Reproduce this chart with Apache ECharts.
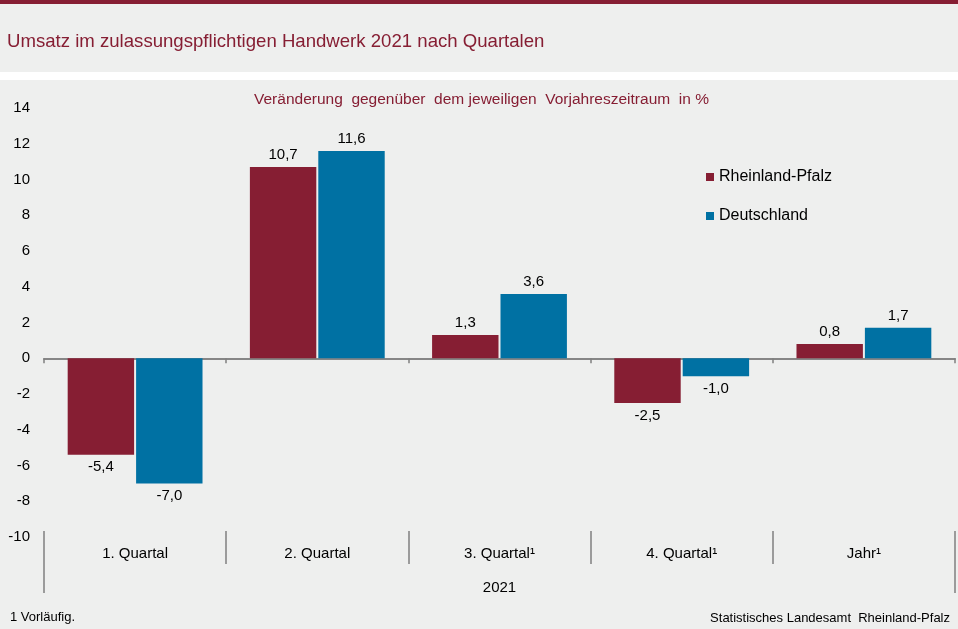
<!DOCTYPE html>
<html>
<head>
<meta charset="utf-8">
<script src="https://cdn.jsdelivr.net/npm/echarts@6/dist/echarts.min.js"></script>
<style>
  html, body { margin: 0; padding: 0; background: #eeefee; }
  #chart { width: 958px; height: 629px; }
</style>
</head>
<body>
<div id="chart"></div>
<script>
// Daten
const categories = ["1. Quartal", "2. Quartal", "3. Quartal¹", "4. Quartal¹", "Jahr¹"];
const rheinlandPfalz = [-5.4, 10.7, 1.3, -2.5, 0.8];
const deutschland = [-7.0, 11.6, 3.6, -1.0, 1.7];
const yearLabel = "2021";

const red = "#861e33";
const blue = "#0071a3";
const grey = "#808080";
const font = "Liberation Sans, Arial, sans-serif";

const fmt = v => v.toFixed(1).replace(".", ",");

// negative Werte bekommen das Label unter dem Balken
const toItems = arr => arr.map(v => ({
  value: v,
  label: { position: v < 0 ? "bottom" : "top" }
}));

const chart = echarts.init(document.getElementById("chart"));

const barLabel = {
  show: true,
  distance: 5,
  fontSize: 15,
  color: "#000",
  fontFamily: font,
  formatter: p => fmt(p.value)
};

const yBase = { type: "value", min: -10, max: 14, interval: 2 };

const option = {
  backgroundColor: "#eeefee",
  animation: false,
  textStyle: { fontFamily: font },
  graphic: [
    { type: "rect", shape: { x: 0, y: 0, width: 958, height: 4 }, style: { fill: red } },
    { type: "rect", shape: { x: 0, y: 72, width: 958, height: 8 }, style: { fill: "#ffffff" } },
    { type: "text", left: 7, top: 32,
      style: { text: "Umsatz im zulassungspflichtigen Handwerk 2021 nach Quartalen", fill: red, font: "18.6px " + font } },
    { type: "text", left: 254, top: 92,
      style: { text: "Veränderung  gegenüber  dem jeweiligen  Vorjahreszeitraum  in %", fill: red, font: "15.5px " + font } },
    { type: "text", left: 10, top: 611,
      style: { text: "1 Vorläufig.", fill: "#000", font: "13px " + font } },
    { type: "text", right: 8, top: 612,
      style: { text: "Statistisches Landesamt  Rheinland-Pfalz", fill: "#000", font: "13px " + font } }
  ],
  legend: {
    orient: "vertical",
    left: 701,
    top: 164,
    itemWidth: 8,
    itemHeight: 8,
    itemGap: 23,
    icon: "rect",
    textStyle: { fontSize: 16, color: "#000", fontFamily: font },
    data: ["Rheinland-Pfalz", "Deutschland"]
  },
  grid: { left: 44, right: 3, top: 108, bottom: 92 },
  xAxis: [
    {
      // Nulllinie mit Trennstrichen nach unten
      type: "category",
      data: categories,
      axisLine: { onZero: true, onZeroAxisIndex: 0, lineStyle: { color: grey, width: 1.5 } },
      axisTick: { show: true, length: 5, lineStyle: { color: grey, width: 1.5 } },
      axisLabel: { show: false }
    },
    {
      // Beschriftung unten
      type: "category",
      data: categories,
      position: "bottom",
      offset: -6,
      axisLine: { show: false, onZero: false },
      axisTick: { show: true, length: 33, lineStyle: { color: grey, width: 1.5 } },
      axisLabel: { show: true, margin: 15, fontSize: 15, color: "#000", fontFamily: font }
    },
    {
      // äußere Striche und Jahr
      type: "value",
      min: 0,
      max: 1,
      interval: 1,
      position: "bottom",
      offset: -6,
      name: yearLabel,
      nameLocation: "middle",
      nameGap: 49,
      nameTextStyle: { fontSize: 15, color: "#000", fontFamily: font },
      axisLine: { show: false, onZero: false },
      axisTick: { show: true, length: 62, lineStyle: { color: grey, width: 1.5 } },
      axisLabel: { show: false },
      splitLine: { show: false }
    },
    {
      // Trennstriche an der Nulllinie nach oben
      type: "category",
      data: categories,
      axisLine: { show: true, onZero: true, onZeroAxisIndex: 1, lineStyle: { color: grey, width: 1.5 } },
      axisTick: { show: true, inside: true, length: 5, lineStyle: { color: grey, width: 1.5 } },
      axisLabel: { show: false }
    }
  ],
  yAxis: [
    Object.assign({}, yBase, {
      axisLine: { show: false },
      axisTick: { show: false },
      splitLine: { show: false },
      axisLabel: { fontSize: 15, color: "#000", margin: 14, fontFamily: font }
    }),
    Object.assign({}, yBase, {
      position: "left",
      show: true,
      axisLine: { show: false },
      axisTick: { show: false },
      splitLine: { show: false },
      axisLabel: { show: false }
    })
  ],
  series: [
    {
      name: "Rheinland-Pfalz",
      type: "bar",
      xAxisIndex: 0,
      yAxisIndex: 0,
      data: toItems(rheinlandPfalz),
      itemStyle: { color: red },
      barGap: "3%",
      barCategoryGap: "26%",
      label: barLabel
    },
    {
      name: "Deutschland",
      type: "bar",
      xAxisIndex: 0,
      yAxisIndex: 0,
      data: toItems(deutschland),
      itemStyle: { color: blue },
      barGap: "3%",
      barCategoryGap: "26%",
      label: barLabel
    }
  ]
};

chart.setOption(option);
</script>
</body>
</html>
